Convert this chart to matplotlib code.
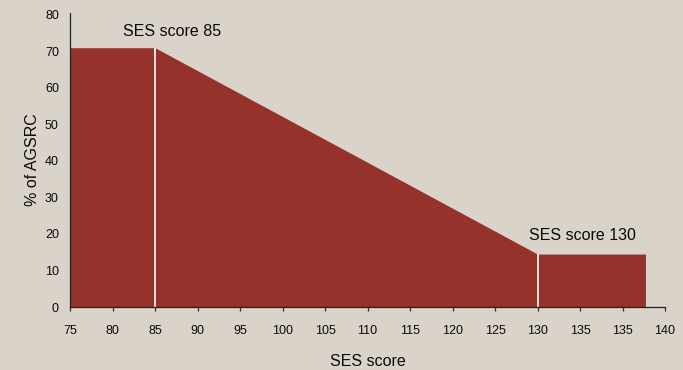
import matplotlib.pyplot as plt
import numpy as np

plt.rcParams["font.family"] = ["Liberation Sans", "DejaVu Sans"]

# axis ticks as printed on the chart (note the repeated 135)
tick_values = np.arange(75, 150, 5)
tick_labels = ["75", "80", "85", "90", "95", "100", "105", "110", "115",
               "120", "125", "130", "135", "135", "140"]

# share of AGSRC by SES score
ses_score = [75, 85, 130, 142.7]
pct_agsrc = [71, 71, 14.5, 14.5]

# thresholds marked with a white rule
thresholds = [85, 130]
threshold_labels = ["SES score 85", "SES score 130"]
label_x = [87.0, 135.3]
label_y = [75.3, 19.7]

bg = "#d9d3ca"
fill_col = "#95322b"
ink = "#0a0a0a"

fig = plt.figure(figsize=(6.83, 3.70), dpi=100, facecolor=bg)
ax = fig.add_axes([70 / 683, 63 / 370, 595 / 683, 294 / 370])
ax.set_facecolor(bg)

ax.fill_between(ses_score, pct_agsrc, 0, color=fill_col, lw=0)
for t in thresholds:
    ax.vlines(t, 0, np.interp(t, ses_score, pct_agsrc), color="white", lw=1.2)

for x, y, s in zip(label_x, label_y, threshold_labels):
    ax.text(x, y, s, ha="center", va="center", fontsize=11.5, color=ink)

ax.set_xlim(75, 145)
ax.set_ylim(0, 80.5)
ax.set_xticks(tick_values)
ax.set_xticklabels(tick_labels)
ax.set_yticks(np.arange(0, 90, 10))

for side in ["top", "right"]:
    ax.spines[side].set_visible(False)
for side in ["left", "bottom"]:
    ax.spines[side].set_color("#222222")
    ax.spines[side].set_linewidth(0.9)

ax.tick_params(axis="x", direction="out", length=3, width=0.9, color="#333333",
               labelsize=9, pad=10, labelcolor=ink)
ax.tick_params(axis="y", length=0, labelsize=9, pad=8, labelcolor=ink)

ax.set_xlabel("SES score", fontsize=11.5, labelpad=12.5, color=ink)
ax.set_ylabel("% of AGSRC", fontsize=11.5, labelpad=3.5, color=ink)

fig.savefig("out.png", dpi=100, facecolor=bg)
